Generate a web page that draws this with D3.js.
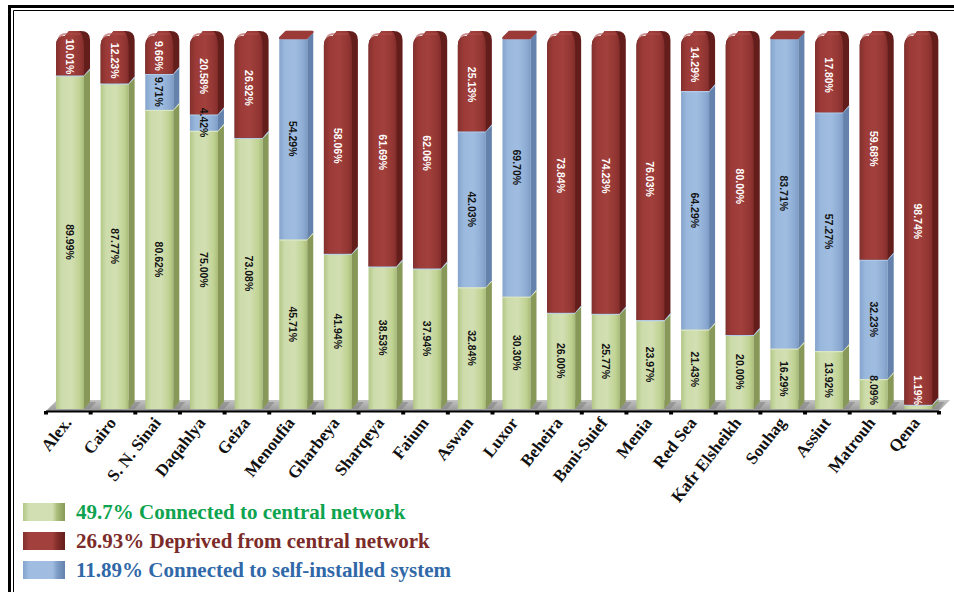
<!DOCTYPE html>
<html>
<head>
<meta charset="utf-8">
<script src="https://cdn.jsdelivr.net/npm/d3@7"></script>
<style>
  body { margin: 0; background: #ffffff; }
  svg { display: block; }
</style>
</head>
<body>
<div id="chart"></div>
<script>
const governorates = ['Alex.', 'Cairo', 'S. N. Sinai', 'Daqahlya', 'Geiza', 'Menoufia', 'Gharbeya', 'Sharqeya', 'Faium', 'Aswan',
  'Luxor', 'Beheira', 'Bani-Suief', 'Menia', 'Red Sea', 'Kafr Elsheikh', 'Souhag', 'Assiut', 'Matrouh', 'Qena'];
const connected = [89.99, 87.77, 80.62, 75.00, 73.08, 45.71, 41.94, 38.53, 37.94, 32.84,
  30.30, 26.00, 25.77, 23.97, 21.43, 20.00, 16.29, 13.92, 8.09, 1.19];
const selfInstalled = [0, 0, 9.71, 4.42, 0, 54.29, 0, 0, 0, 42.03,
  69.70, 0, 0, 0, 64.29, 0, 83.71, 57.27, 32.23, 0];
const deprived = [10.01, 12.23, 9.66, 20.58, 26.92, 0, 58.06, 61.69, 62.06, 25.13,
  0, 73.84, 74.23, 76.03, 14.29, 80.00, 0, 17.80, 59.68, 98.74];
const legendLabels = ['49.7% Connected to central network', '26.93% Deprived from central network',
  '11.89% Connected to self-installed system'];

(function () {
  const width = 954;
  const height = 592;

  const series = [
    { key: 'connected', legend: 0, front: ['#b3c787', '#cddcab', '#d2dfb2', '#c0d292', '#a8bb77'], side: '#879859', top: '#dbe6c4', text: '#111111', legendText: '#0ea34f' },
    { key: 'selfInstalled', legend: 2, front: ['#84a3cc', '#9ab8dd', '#a0bde1', '#8eacd3', '#7d9cc6'], side: '#6482ab', top: '#b4cbe7', text: '#111111', legendText: '#3068a8' },
    { key: 'deprived', legend: 1, front: ['#83302d', '#9b3a37', '#a1403c', '#933633', '#822d2a'], side: '#631e1c', top: '#ab4b47', text: '#ffffff', legendText: '#7b2b29' },
  ];

  const rows = governorates.map((name, i) => ({
    name,
    connected: connected[i],
    selfInstalled: selfInstalled[i],
    deprived: deprived[i],
  }));

  const stacked = d3.stack()
    .keys(series.map((s) => s.key))
    .offset(d3.stackOffsetExpand)(rows);

  const svg = d3.select('#chart')
    .append('svg')
    .attr('width', width)
    .attr('height', height);

  const defs = svg.append('defs');
  series.forEach((s) => {
    const grad = defs.append('linearGradient')
      .attr('id', `front-${s.key}`)
      .attr('x1', 0).attr('x2', 1).attr('y1', 0).attr('y2', 0);
    [0, 0.2, 0.55, 0.85, 1].forEach((offset, j) => {
      grad.append('stop').attr('offset', offset).attr('stop-color', s.front[j]);
    });
    const sw = defs.append('linearGradient')
      .attr('id', `swatch-${s.key}`)
      .attr('x1', 0).attr('x2', 1).attr('y1', 0).attr('y2', 0);
    [[0, s.front[0]], [0.15, s.front[2]], [0.7, s.front[2]], [0.82, s.front[4]], [1, s.side]].forEach(([o, c]) => {
      sw.append('stop').attr('offset', o).attr('stop-color', c);
    });
  });
  const floorGrad = defs.append('linearGradient')
    .attr('id', 'floor')
    .attr('x1', 0).attr('x2', 0).attr('y1', 0).attr('y2', 1);
  floorGrad.append('stop').attr('offset', 0).attr('stop-color', '#c4c4c4');
  floorGrad.append('stop').attr('offset', 1).attr('stop-color', '#979797');

  // frame (double line on top and left)
  svg.append('path').attr('d', 'M9.5,592 V6.5 H954').attr('fill', 'none').attr('stroke', '#000').attr('stroke-width', 3);
  svg.append('path').attr('d', 'M13.5,592 V10.5 H954').attr('fill', 'none').attr('stroke', '#000').attr('stroke-width', 1);

  const x = d3.scaleBand()
    .domain(governorates)
    .range([46, 939])
    .paddingInner(0);

  const y = d3.scaleLinear()
    .domain([0, 1])
    .range([409, 38]);

  const barOffset = 10;
  const barW = 28;
  const dx = 6;
  const dy = -7;
  const floorFront = 411;
  const floorBack = 400;
  const capR = 9;

  // floor
  svg.append('path')
    .attr('d', `M${x.range()[0]},${floorFront} L${x.range()[0] + 11},${floorBack} L${x.range()[1] + 11},${floorBack} L${x.range()[1]},${floorFront} Z`)
    .attr('fill', 'url(#floor)');

  // shadows of bar sides on the floor
  svg.append('g')
    .selectAll('path')
    .data(governorates)
    .join('path')
    .attr('d', (d) => {
      const x1 = x(d) + barOffset + barW;
      return `M${x1},${floorFront - 2} L${x1 + dx},${floorFront - 2 + dy} L${x1 + dx + 6},${floorFront - 2 + dy} L${x1 + 6},${floorFront - 2} Z`;
    })
    .attr('fill', '#7f7f7f')
    .attr('opacity', 0.55);

  svg.append('line')
    .attr('x1', x.range()[0]).attr('x2', x.range()[1])
    .attr('y1', floorFront + 0.5).attr('y2', floorFront + 0.5)
    .attr('stroke', '#000').attr('stroke-width', 2);

  svg.append('g')
    .selectAll('rect')
    .data(governorates.map((d) => x(d)).concat([x.range()[1]]))
    .join('rect')
    .attr('x', (d) => d - 2)
    .attr('y', floorFront)
    .attr('width', 4)
    .attr('height', 3.5)
    .attr('fill', '#000');

  // bars
  const barsGroup = svg.append('g');
  const lastLayer = stacked.length - 1;
  governorates.forEach((name, i) => {
    const x0 = x(name) + barOffset;
    const g = barsGroup.append('g');
    stacked.forEach((layer, li) => {
      const s = series[li];
      const seg = layer[i];
      const yb = y(seg[0]);
      const yt = y(seg[1]);
      const h = yb - yt;
      const rounded = li === lastLayer && h > capR * 2;
      if (rounded) {
        // top segment of the bar: pill-like rounded cap
        const x1 = x0 + barW;
        g.append('path')
          .attr('d', `M${x0},${yb} V${yt - 2 + capR} Q${x0},${yt - 2} ${x0 + capR},${yt - 2} `
            + `L${x0 + dx + capR - 2},${yt + dy} H${x1 + dx - capR} Q${x1 + dx},${yt + dy} ${x1 + dx},${yt + dy + capR} `
            + `V${yb + dy} L${x1},${yb} Z`)
          .attr('fill', s.side);
        g.append('path')
          .attr('d', `M${x0},${yb} V${yt - 2 + capR} Q${x0},${yt - 2} ${x0 + capR},${yt - 2} `
            + `L${x0 + dx + capR - 2},${yt + dy} H${x1 + dx - capR - 2} Q${x1 - 1},${yt + dy + 1} ${x1},${yt + capR - 1} V${yb} Z`)
          .attr('fill', `url(#front-${s.key})`);
        g.append('path')
          .attr('d', `M${x0 + 3},${yt} Q${x0 + 4},${yt - 4} ${x0 + capR + 2},${yt - 4} L${x1 - 4},${yt - 4}`)
          .attr('fill', 'none')
          .attr('stroke', s.top)
          .attr('stroke-width', 2)
          .attr('opacity', 0.6);
        return;
      }
      g.append('rect')
        .attr('x', x0).attr('y', yt)
        .attr('width', barW).attr('height', Math.max(0, h))
        .attr('fill', `url(#front-${s.key})`);
      g.append('path')
        .attr('d', `M${x0 + barW},${yt} L${x0 + barW + dx},${yt + dy} L${x0 + barW + dx},${yb + dy} L${x0 + barW},${yb} Z`)
        .attr('fill', s.side);
      g.append('path')
        .attr('d', `M${x0 + 1},${yt} L${x0 + dx + 1},${yt + dy + 1} L${x0 + barW + dx - 1},${yt + dy + 1} L${x0 + barW - 1},${yt} Z`)
        .attr('fill', li === lastLayer ? s.front[1] : s.top)
        .attr('stroke', li === lastLayer ? s.front[1] : s.top)
        .attr('stroke-width', 2.5)
        .attr('stroke-linejoin', 'round');
    });
  });

  // value labels
  const fmt = d3.format('.2f');
  const labelGroup = svg.append('g')
    .attr('font-family', 'Liberation Sans, Arial, sans-serif')
    .attr('font-weight', 'bold')
    .attr('font-size', 10.5);

  governorates.forEach((name, i) => {
    const cx = x(name) + barOffset + barW / 2;
    stacked.forEach((layer, li) => {
      const s = series[li];
      const value = rows[i][s.key];
      if (!value) {
        return;
      }
      const seg = layer[i];
      const yb = y(seg[0]);
      const yt = y(seg[1]);
      const segH = yb - yt;
      const t = labelGroup.append('text')
        .attr('text-anchor', 'middle')
        .attr('dominant-baseline', 'central')
        .attr('fill', s.key === 'deprived' || segH < 12 ? '#ffffff' : s.text)
        .text(`${fmt(value)}%`);
      const len = t.node().getComputedTextLength();
      let cy = (yb + yt) / 2;
      cy = Math.min(cy, y(0) - 4 - len / 2);
      t.attr('transform', `translate(${cx},${cy}) rotate(90)`);
    });
  });

  // category labels
  svg.append('g')
    .selectAll('text')
    .data(governorates)
    .join('text')
    .attr('transform', (d) => `translate(${x(d) + x.bandwidth() / 2 + 4},${floorFront + 12}) rotate(-52)`)
    .attr('text-anchor', 'end')
    .attr('font-family', 'Liberation Serif, Times New Roman, serif')
    .attr('font-weight', 'bold')
    .attr('font-size', 17)
    .attr('fill', '#111')
    .text((d) => d);

  // legend
  const legendRows = [0, 1, 2].map((k) => series.find((s) => s.legend === k));
  const legend = svg.append('g')
    .selectAll('g')
    .data(legendRows)
    .join('g')
    .attr('transform', (d, k) => `translate(23,${503 + k * 29})`);

  legend.append('rect')
    .attr('width', 42)
    .attr('height', 18)
    .attr('fill', (d) => `url(#swatch-${d.key})`);

  legend.append('text')
    .attr('x', 53)
    .attr('y', 16)
    .attr('font-family', 'Liberation Serif, Times New Roman, serif')
    .attr('font-weight', 'bold')
    .attr('font-size', 21)
    .attr('fill', (d) => d.legendText)
    .text((d) => legendLabels[d.legend]);
})();
</script>
</body>
</html>
